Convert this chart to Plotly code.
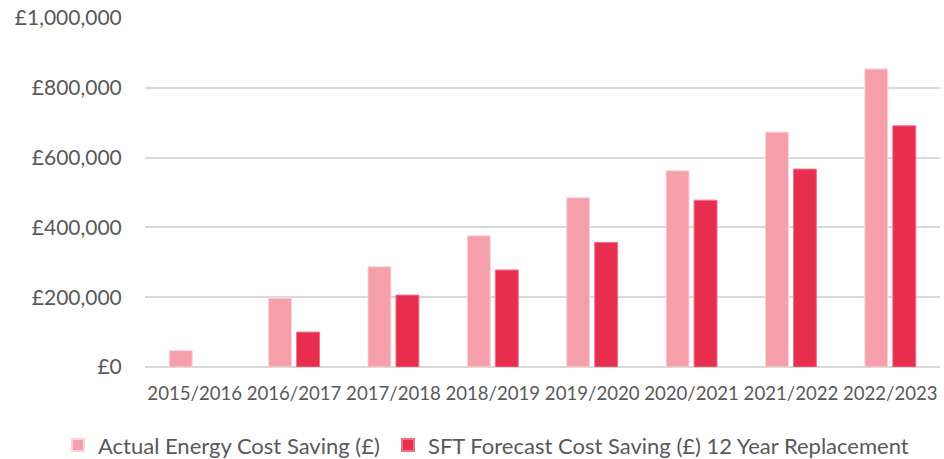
import plotly.graph_objects as go

years = ["2015/2016", "2016/2017", "2017/2018", "2018/2019",
         "2019/2020", "2020/2021", "2021/2022", "2022/2023"]
actual_saving = [47000, 197000, 287000, 376000, 485000, 562000, 673000, 854000]
forecast_saving = [None, 100000, 206000, 278000, 357000, 478000, 567000, 691000]

FONT = "Lato"
TEXT = "#595959"

fig = go.Figure()
fig.add_trace(go.Bar(
    x=years, y=actual_saving, name="Actual Energy Cost Saving (£)",
    marker=dict(color="#F49FAA", line=dict(color="#FBD5DA", width=1)),
    legend="legend",
))
fig.add_trace(go.Bar(
    x=years, y=forecast_saving, name="SFT Forecast Cost Saving (£) 12 Year Replacement",
    marker=dict(color="#E82E4E", line=dict(color="#F07088", width=1)),
    legend="legend2",
))

legend_style = dict(orientation="h", xref="container", yref="container",
                    xanchor="left", y=0.03, yanchor="middle",
                    font=dict(family=FONT, size=22, color=TEXT),
                    itemwidth=30, itemsizing="constant", bgcolor="rgba(0,0,0,0)")

fig.update_layout(
    width=944, height=459,
    margin=dict(l=145, r=4, t=18, b=92, autoexpand=False),
    paper_bgcolor="white", plot_bgcolor="white",
    barmode="group", bargap=0.437, bargroupgap=0.18,
    font=dict(family=FONT, size=18, color=TEXT),
    showlegend=True,
    legend=dict(x=0.0614, **legend_style),
    legend2=dict(x=0.411, **legend_style),
    xaxis=dict(showgrid=False, showline=False, ticks="outside", ticklen=10,
               tickcolor="rgba(0,0,0,0)", tickfont=dict(size=18.6), tickangle=0),
    yaxis=dict(range=[0, 1000000], dtick=200000, tickprefix="£", tickformat=",.0f",
               showgrid=True, gridcolor="#D9D9D9", gridwidth=1.5,
               zeroline=True, zerolinecolor="#D9D9D9", zerolinewidth=1.5,
               ticks="outside", ticklen=18, tickcolor="rgba(0,0,0,0)",
               tickfont=dict(size=21)),
)

fig.write_html("out.html")
